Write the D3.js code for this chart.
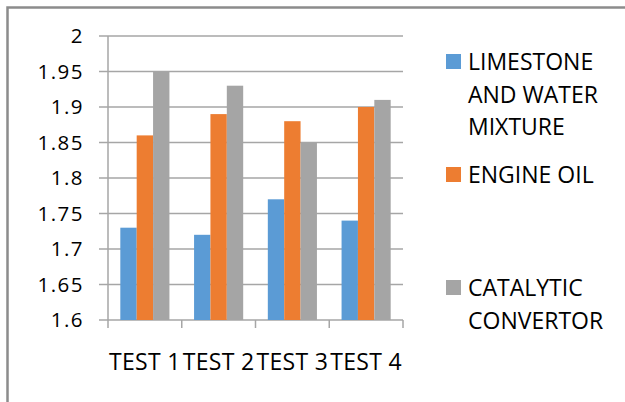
<!DOCTYPE html>
<html>
<head>
<meta charset="utf-8">
<script src="https://cdn.jsdelivr.net/npm/d3@7"></script>
<style>
  body { margin: 0; background: #fff; }
  text { font-family: "Open Sans", sans-serif; fill: #000; }
</style>
</head>
<body>
<div id="chart"></div>
<script>
// Data
var categories = ["TEST 1", "TEST 2", "TEST 3", "TEST 4"];
var seriesNames = ["LIMESTONE AND WATER MIXTURE", "ENGINE OIL", "CATALYTIC CONVERTOR"];
var limestone = [1.73, 1.72, 1.77, 1.74];
var engineOil = [1.86, 1.89, 1.88, 1.90];
var catalytic = [1.95, 1.93, 1.85, 1.91];
var yTicks = [1.6, 1.65, 1.7, 1.75, 1.8, 1.85, 1.9, 1.95, 2];
var colors = ["#5b9bd5", "#ed7d31", "#a5a5a5"];
var legendLines = [["LIMESTONE", "AND WATER", "MIXTURE"], ["ENGINE OIL"], ["CATALYTIC", "CONVERTOR"]];

var svgWidth = 625, svgHeight = 402;
var margin = { top: 36, left: 108 };
var width = 295, height = 284;

var svg = d3.select("#chart")
  .append("svg")
  .attr("width", svgWidth)
  .attr("height", svgHeight);

// outer frame (runs off the right and bottom edges)
svg.append("path")
  .attr("d", "M7.5,402 V7.5 H625")
  .attr("fill", "none")
  .attr("stroke", "#8c8c8c")
  .attr("stroke-width", 2.5);

var chartGroup = svg.append("g")
  .attr("transform", `translate(${margin.left}, ${margin.top})`);

var table = categories.map(function(c, i) {
  return { cat: c, values: [limestone[i], engineOil[i], catalytic[i]] };
});

var x0 = d3.scaleBand().domain(categories).range([0, width]).paddingInner(0).paddingOuter(0);
var x1 = d3.scaleBand().domain([0, 1, 2]).range([x0.bandwidth() * 0.167, x0.bandwidth() * 0.833]);
var y = d3.scaleLinear().domain([1.6, 2]).range([height, 0]);

// gridlines
chartGroup.append("g")
  .selectAll("line")
  .data(yTicks)
  .enter()
  .append("line")
  .attr("x1", -9)
  .attr("x2", width)
  .attr("y1", d => y(d))
  .attr("y2", d => y(d))
  .attr("stroke", "#a6a6a6")
  .attr("stroke-width", 1.5);

// bars
var groups = chartGroup.selectAll(".grp")
  .data(table)
  .enter()
  .append("g")
  .attr("transform", d => `translate(${x0(d.cat)},0)`);

groups.selectAll("rect")
  .data(d => d.values)
  .enter()
  .append("rect")
  .attr("x", (d, i) => x1(i))
  .attr("width", x1.bandwidth())
  .attr("y", d => y(d))
  .attr("height", d => height - y(d))
  .attr("fill", (d, i) => colors[i]);

// y axis line
chartGroup.append("line")
  .attr("x1", 0).attr("x2", 0)
  .attr("y1", 0).attr("y2", height)
  .attr("stroke", "#a6a6a6")
  .attr("stroke-width", 1.5);

// x axis ticks
var xTickPos = categories.map(c => x0(c)).concat([width]);
chartGroup.append("g")
  .selectAll("line")
  .data(xTickPos)
  .enter()
  .append("line")
  .attr("x1", d => d).attr("x2", d => d)
  .attr("y1", height).attr("y2", height + 8)
  .attr("stroke", "#a6a6a6")
  .attr("stroke-width", 1.5);

// y labels
chartGroup.append("g")
  .selectAll("text")
  .data(yTicks)
  .enter()
  .append("text")
  .attr("x", -24)
  .attr("y", d => y(d) + 7)
  .attr("text-anchor", "end")
  .style("font-size", "20.5px")
  .style("letter-spacing", "1.5px")
  .text(d => d3.format("")(d));

// x labels
chartGroup.append("g")
  .selectAll("text")
  .data(categories)
  .enter()
  .append("text")
  .attr("x", d => x0(d) + x0.bandwidth() / 2)
  .attr("y", 334)
  .attr("text-anchor", "middle")
  .style("font-size", "23px")
  .style("letter-spacing", "0.3px")
  .text(d => d);

// legend
var legendY = [54, 167, 280];
var legend = svg.append("g");
legendLines.forEach(function(lines, i) {
  legend.append("rect")
    .attr("x", 446).attr("y", legendY[i])
    .attr("width", 15).attr("height", 15)
    .attr("fill", colors[i]);
  var t = legend.append("text")
    .attr("x", 468)
    .attr("y", legendY[i] + 16)
    .style("font-size", "23px");
  lines.forEach(function(l, j) {
    t.append("tspan")
      .attr("x", 468)
      .attr("dy", j === 0 ? 0 : 32.5)
      .text(l);
  });
});
</script>
</body>
</html>
